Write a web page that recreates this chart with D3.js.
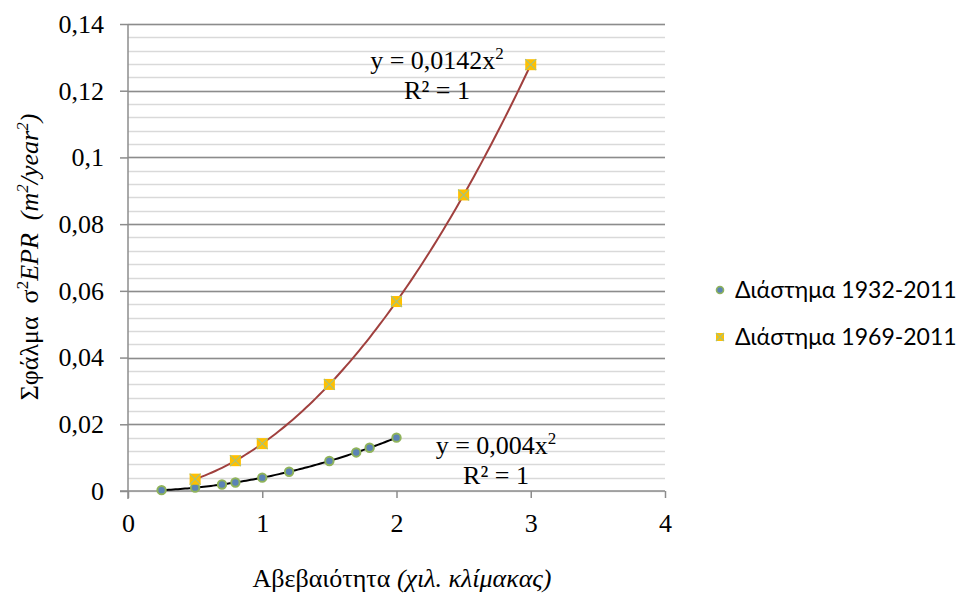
<!DOCTYPE html>
<html>
<head>
<meta charset="utf-8">
<script src="https://cdn.jsdelivr.net/npm/d3@7/dist/d3.min.js"></script>
<style>
  html, body { margin: 0; padding: 0; background: #fff; }
  svg { display: block; }
  text { white-space: pre; }
</style>
</head>
<body>
<svg id="chart" width="963" height="597"></svg>
<script>
// Uncertainty (x) and EPR error variance (y) for the two periods
const xA = [0.25, 0.5, 0.7, 0.8, 1.0, 1.2, 1.5, 1.7, 1.8, 2.0];
const yA = [0.00025, 0.001, 0.00196, 0.00256, 0.004, 0.00576, 0.009, 0.01156, 0.01296, 0.016];
const xB = [0.5, 0.8, 1.0, 1.5, 2.0, 2.5, 3.0];
const yB = [0.00355, 0.00909, 0.0142, 0.03195, 0.0568, 0.08875, 0.1278];

// Power trendline coefficients (y = k·x²)
const coefA = 0.004;
const coefB = 0.0142;

const seriesNames = ["Διάστημα 1932-2011", "Διάστημα 1969-2011"];
const xTicks = [0, 1, 2, 3, 4];
const yTicks = [0, 0.02, 0.04, 0.06, 0.08, 0.1, 0.12, 0.14];
const yMinor = d3.range(0, 0.1401, 0.004);

const svg = d3.select("#chart");
const x = d3.scaleLinear().domain([0, 4]).range([128, 665]);
const y = d3.scaleLinear().domain([0, 0.14]).range([491, 24]);

const fmt = d => String(+d.toFixed(4)).replace(".", ",");
const serif = "'Liberation Serif', 'Times New Roman', serif";
const fs = 26;

// minor gridlines
svg.append("g").selectAll("line").data(yMinor).join("line")
  .attr("x1", x(0)).attr("x2", x(4))
  .attr("y1", d => Math.round(y(d)) + 0.5).attr("y2", d => Math.round(y(d)) + 0.5)
  .attr("stroke", "#d9d9d9").attr("stroke-width", 1.5);

// major gridlines
svg.append("g").selectAll("line").data(yTicks.slice(1)).join("line")
  .attr("x1", x(0)).attr("x2", x(4))
  .attr("y1", d => Math.round(y(d)) + 0.5).attr("y2", d => Math.round(y(d)) + 0.5)
  .attr("stroke", "#8c8c8c").attr("stroke-width", 1.5);

// y axis
const yAxis = svg.append("g").attr("transform", `translate(${x(0)},0)`)
  .call(d3.axisLeft(y).tickValues(yTicks).tickFormat(fmt).tickSize(8).tickPadding(16));
yAxis.select(".domain").attr("stroke", "#8c8c8c").attr("stroke-width", 1.5)
  .attr("d", `M0,${y(0.14)}V${y(0) + 8}`);
yAxis.selectAll(".tick line").attr("stroke", "#8c8c8c").attr("stroke-width", 1.5);
yAxis.selectAll(".tick text").attr("font-family", serif).attr("font-size", fs).attr("fill", "#000");

// x axis
const xAxis = svg.append("g").attr("transform", `translate(0,${y(0)})`)
  .call(d3.axisBottom(x).tickValues(xTicks).tickFormat(d => d).tickSize(7).tickPadding(16));
xAxis.select(".domain").attr("stroke", "#8c8c8c").attr("stroke-width", 1.5)
  .attr("d", `M${x(0) - 8},0H${x(4)}`);
xAxis.selectAll(".tick line").attr("stroke", "#8c8c8c").attr("stroke-width", 1.5);
xAxis.selectAll(".tick text").attr("font-family", serif).attr("font-size", fs).attr("fill", "#000");

// trendlines
const curve = (k, x0, x1) => d3.range(0, 101).map(i => {
  const xv = x0 + (x1 - x0) * i / 100;
  return [x(xv), y(k * xv * xv)];
});
const line = d3.line();
svg.append("path").attr("d", line(curve(coefB, d3.min(xB), d3.max(xB))))
  .attr("fill", "none").attr("stroke", "#a0403e").attr("stroke-width", 2);
svg.append("path").attr("d", line(curve(coefA, d3.min(xA), d3.max(xA))))
  .attr("fill", "none").attr("stroke", "#000").attr("stroke-width", 2);

// series A markers
const ptsA = xA.map((d, i) => [d, yA[i]]);
svg.append("g").selectAll("circle").data(ptsA).join("circle")
  .attr("cx", d => x(d[0])).attr("cy", d => y(d[1])).attr("r", 4.2)
  .attr("fill", "#5b83b5").attr("stroke", "#8fb35a").attr("stroke-width", 2);

// series B markers
function squareX(g, cx, cy, s) {
  g.append("rect").attr("x", cx - s / 2).attr("y", cy - s / 2).attr("width", s).attr("height", s)
    .attr("fill", "#ffc000");
  g.append("path").attr("d", `M${cx - s / 2},${cy - s / 2}L${cx + s / 2},${cy + s / 2}M${cx + s / 2},${cy - s / 2}L${cx - s / 2},${cy + s / 2}`)
    .attr("stroke", "#a9c27a").attr("stroke-width", 1.2);
}
const gB = svg.append("g");
xB.forEach((d, i) => squareX(gB, x(d), y(yB[i]), 11));

// trendline equations
const eq = svg.append("g").attr("font-family", serif).attr("font-size", fs).attr("fill", "#000");
function equation(coef, cx, cy) {
  const t = eq.append("text").attr("x", cx).attr("y", cy).attr("text-anchor", "middle");
  t.append("tspan").text(`y = ${fmt(coef)}x`);
  t.append("tspan").attr("dy", -10).attr("font-size", 17).text("2");
  eq.append("text").attr("x", cx).attr("y", cy + 30).attr("text-anchor", "middle").text("R² = 1");
}
equation(coefB, 437, 69);
equation(coefA, 496, 454);

// axis titles
const yt = svg.append("text").attr("transform", "translate(38,257) rotate(-90)")
  .attr("text-anchor", "middle").attr("font-family", serif).attr("font-size", fs).attr("fill", "#000");
yt.append("tspan").text("Σφάλμα  σ");
yt.append("tspan").attr("dy", -10).attr("font-size", 17).text("2");
yt.append("tspan").attr("dy", 10).attr("font-style", "italic").text("EPR  (m");
yt.append("tspan").attr("dy", -10).attr("font-size", 17).attr("font-style", "italic").text("2");
yt.append("tspan").attr("dy", 10).attr("font-style", "italic").text("/year");
yt.append("tspan").attr("dy", -10).attr("font-size", 17).attr("font-style", "italic").text("2");
yt.append("tspan").attr("dy", 10).attr("font-style", "italic").text(")");

const xt = svg.append("text").attr("x", 402).attr("y", 587).attr("text-anchor", "middle")
  .attr("font-family", serif).attr("font-size", fs).attr("fill", "#000");
xt.append("tspan").text("Αβεβαιότητα ");
xt.append("tspan").attr("font-style", "italic").text("(χιλ. κλίμακας)");

// legend
const leg = svg.append("g").attr("font-family", "Lato, 'Open Sans', sans-serif").attr("font-size", 23).attr("fill", "#000");
leg.append("circle").attr("cx", 720).attr("cy", 290).attr("r", 3.5)
  .attr("fill", "#5b83b5").attr("stroke", "#8fb35a").attr("stroke-width", 1.6);
leg.append("text").attr("x", 735).attr("y", 298).text(seriesNames[0]);
squareX(leg, 720, 337, 8);
leg.append("text").attr("x", 735).attr("y", 345).text(seriesNames[1]);
</script>
</body>
</html>
